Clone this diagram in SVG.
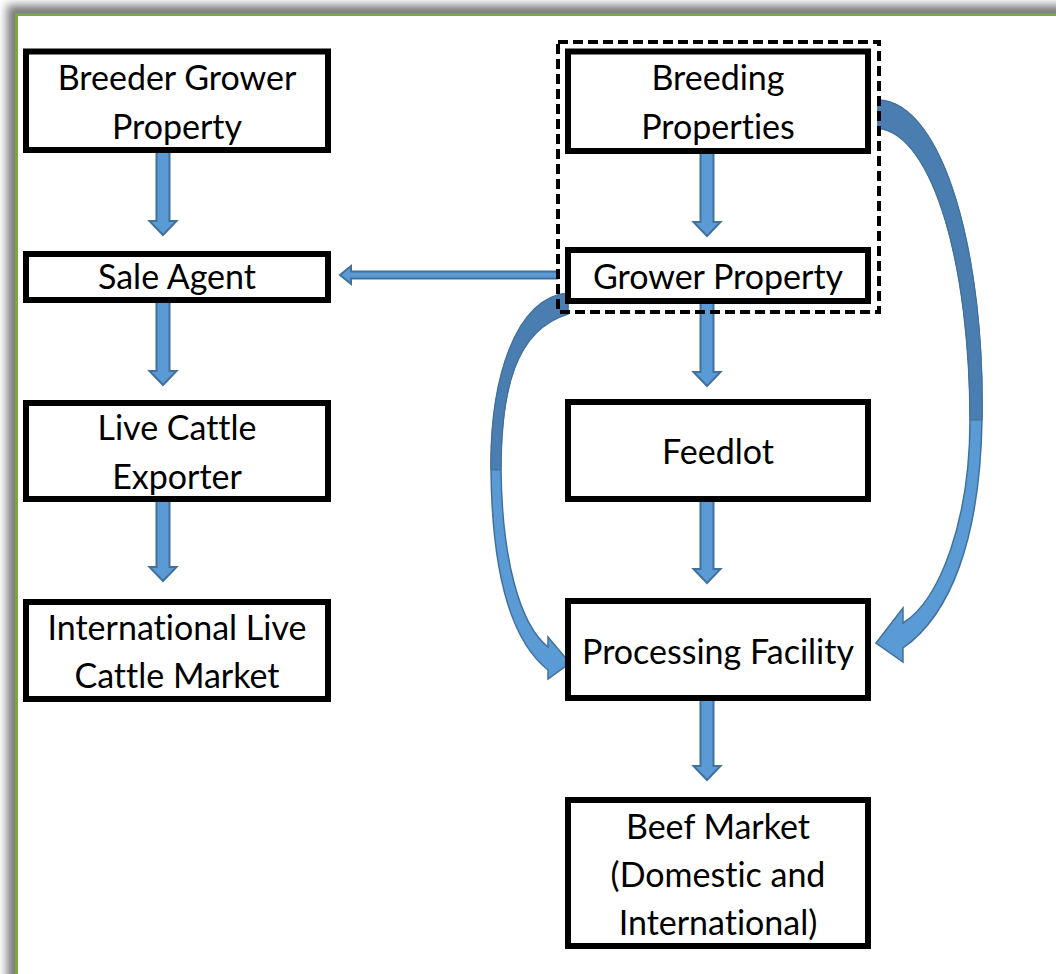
<svg xmlns="http://www.w3.org/2000/svg" width="1056" height="974" viewBox="0 0 1056 974">
<style>
.box{fill:#fff;stroke:#000;stroke-width:6}
.t{font-family:Lato,"Liberation Sans",sans-serif;font-size:34px;fill:#000;text-anchor:middle;font-variant-ligatures:none;font-feature-settings:"liga" 0,"dlig" 0}
.arr{fill:#5B9BD5;stroke:#41719C;stroke-width:2;stroke-linejoin:miter}
.back{fill:#4A7EB0;stroke:#41719C;stroke-width:1}
.front{fill:#5B9BD5;stroke:#41719C;stroke-width:1.5}
</style>
<defs>
<filter id="sh" x="-5%" y="-5%" width="110%" height="110%"><feGaussianBlur stdDeviation="5"/></filter>
</defs>
<rect x="0" y="0" width="1056" height="974" fill="#fff"/>
<rect x="7" y="5" width="1200" height="1200" fill="#7a7a7a" filter="url(#sh)"/>
<rect x="16.5" y="14.5" width="1200" height="1200" fill="#fff" stroke="#7AA83A" stroke-width="3"/>

<g id="connectors">
  <path class="front" d="M 878 100 C 945 102, 985 260, 982 420 C 980 540, 950 615, 903 648 L 903 662 L 876 643 L 903 608 L 903 623 C 940 600, 970 520, 970 420 C 970 270, 935 135, 878 128 Z"/>
  <path class="back" d="M 878 100 C 945 102, 985 260, 982 420 L 970 420 C 970 270, 935 135, 878 128 Z"/>
  <path class="front" d="M 568 293 C 515 298, 490 380, 491 470 C 492 570, 510 640, 548 670 L 548 679 L 570 663 L 548 637 L 548 647 C 520 625, 502 560, 501 470 C 501 390, 515 330, 568 314 Z"/>
  <path class="back" d="M 568 293 C 515 298, 490 380, 491 470 L 501 470 C 501 390, 515 330, 568 314 Z"/>
  <path class="arr" d="M 156.5 152 H 169.5 V 221 H 176.5 L 163 235 L 149.5 221 H 156.5 Z"/>
  <path class="arr" d="M 156.5 302 H 169.5 V 371 H 176.5 L 163 385 L 149.5 371 H 156.5 Z"/>
  <path class="arr" d="M 156.5 501 H 169.5 V 567 H 176.5 L 163 581 L 149.5 567 H 156.5 Z"/>
  <path class="arr" d="M 700.5 153 H 713.5 V 222 H 720.5 L 707 236 L 693.5 222 H 700.5 Z"/>
  <path class="arr" d="M 700.5 303 H 713.5 V 372 H 720.5 L 707 386 L 693.5 372 H 700.5 Z"/>
  <path class="arr" d="M 700.5 501 H 713.5 V 569 H 720.5 L 707 583 L 693.5 569 H 700.5 Z"/>
  <path class="arr" d="M 700.5 700 H 713.5 V 766 H 720.5 L 707 780 L 693.5 766 H 700.5 Z"/>
  <path class="arr" d="M 557 271.5 V 278.5 H 351 V 284 L 340 275 L 351 266 V 271.5 Z"/>
</g>

<g id="group-dashed">
  <rect x="558" y="42" width="321" height="270" fill="none" stroke="#000" stroke-width="4" stroke-dasharray="10 5"/>
</g>

<g id="breeder-grower-property">
  <rect class="box" x="26" y="51.5" width="302" height="98.5"/>
  <text class="t" x="177" y="90">Breeder Grower</text>
  <text class="t" x="177" y="139">Property</text>
</g>
<g id="sale-agent">
  <rect class="box" x="26" y="254" width="302" height="46"/>
  <text class="t" x="177" y="289">Sale Agent</text>
</g>
<g id="live-cattle-exporter">
  <rect class="box" x="26" y="403" width="302" height="96"/>
  <text class="t" x="177" y="440">Live Cattle</text>
  <text class="t" x="177" y="489">Exporter</text>
</g>
<g id="international-live-cattle-market">
  <rect class="box" x="26" y="602" width="302" height="97"/>
  <text class="t" x="177" y="640">International Live</text>
  <text class="t" x="177" y="688">Cattle Market</text>
</g>
<g id="breeding-properties">
  <rect class="box" x="568" y="51.5" width="300" height="99.5"/>
  <text class="t" x="718" y="90">Breeding</text>
  <text class="t" x="718" y="139">Properties</text>
</g>
<g id="grower-property">
  <rect class="box" x="568" y="250" width="300" height="51"/>
  <text class="t" x="718" y="289">Grower Property</text>
</g>
<g id="feedlot">
  <rect class="box" x="568" y="402" width="300" height="97"/>
  <text class="t" x="718" y="464">Feedlot</text>
</g>
<g id="processing-facility">
  <rect class="box" x="568" y="601" width="300" height="97"/>
  <text class="t" x="718" y="664">Processing Facility</text>
</g>
<g id="beef-market">
  <rect class="box" x="568" y="800" width="300" height="146"/>
  <text class="t" x="718" y="839">Beef Market</text>
  <text class="t" x="718" y="887">(Domestic and</text>
  <text class="t" x="718" y="935">International)</text>
</g>
</svg>
